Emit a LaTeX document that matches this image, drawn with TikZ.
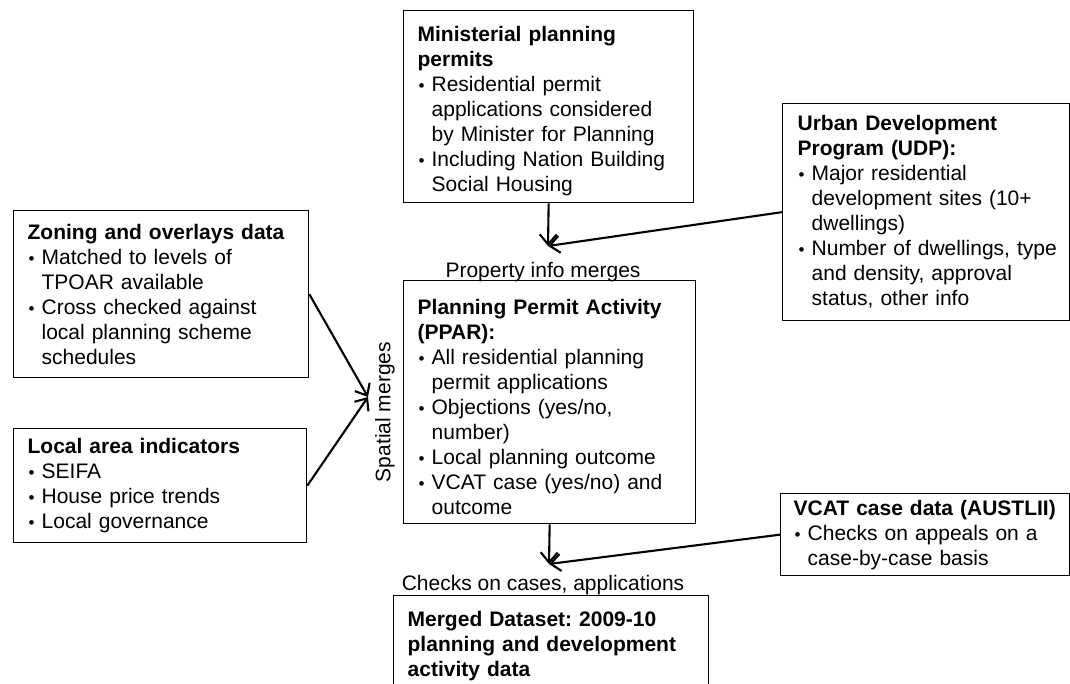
\documentclass[tikz,border=0pt]{standalone}
\usepackage{fontspec}
\setmainfont{Liberation Sans}
\usepackage{tikz}
\usetikzlibrary{arrows.meta}
\usetikzlibrary{positioning}
\frenchspacing

\newcommand{\bul}{\makebox[14pt][l]{\hspace{1pt}{\fontsize{17}{17}\selectfont\textbullet}}}
\newcommand{\ind}{\hspace*{14pt}}

\begin{document}
\begin{tikzpicture}[x=1pt,y=-1pt,
  font=\fontsize{21}{25}\selectfont,
  databox/.style={draw, line width=1.3pt, anchor=north west, align=left, inner xsep=14pt, inner ysep=0pt},
  link/.style={line width=2.1pt, -{Straight Barb[length=10pt,width=17pt,line width=2.1pt]}}]
\useasboundingbox (0,0) rectangle (1070,684); % page size of the original
% source data boxes
\node[databox, text width=262pt, minimum height=192pt] (mini) at (403,10) {\rule{0pt}{25pt}\textbf{Ministerial planning}\\ \textbf{permits}\\ \bul Residential permit\\ \ind applications considered\\ \ind by Minister for Planning\\ \bul Including Nation Building\\ \ind Social Housing};
\node[databox, inner xsep=15pt, text width=257pt, minimum height=217pt] (udp) at (782,103) {\textbf{Urban Development}\\ \textbf{Program (UDP):}\\ \bul Major residential\\ \ind development sites (10+\\ \ind dwellings)\\ \bul \mbox{Number of dwellings, type}\\ \ind and density, approval\\ \ind status, other info};
\node[databox, text width=267pt, minimum height=167pt] (zoning) at (13,210) {\textbf{Zoning and overlays data}\\ \bul Matched to levels of\\ \ind TPOAR available\\ \bul Cross checked against\\ \ind local planning scheme\\ \ind schedules};
\node[databox, text width=265pt, minimum height=114pt] (local) at (13,428) {\textbf{Local area indicators}\\ \bul SEIFA\\ \bul House price trends\\ \bul Local governance};
\node[databox, text width=264pt, minimum height=243pt] (ppar) at (403,280) {\rule{0pt}{25pt}\textbf{Planning Permit Activity}\\ \textbf{(PPAR):}\\ \bul All residential planning\\ \ind permit applications\\ \bul Objections (yes/no,\\ \ind number)\\ \bul Local planning outcome\\ \bul VCAT case (yes/no) and\\ \ind outcome};
\node[databox, inner xsep=13pt, text width=263pt, minimum height=82pt] (vcat) at (780,493) {\textbf{\mbox{VCAT case data (AUSTLII)}}\\ \bul Checks on appeals on a\\ \ind case-by-case basis};
\node[databox, text width=287pt, minimum height=100pt] (merged) at (393,595) {\textbf{Merged Dataset: 2009-10}\\ \textbf{planning and development}\\ \textbf{activity data}};
% merge labels
\node (propinfo) at (543,272) {Property info merges};
\node[rotate=90] (spatial) at (385,412) {Spatial merges};
\node (checks) at (543,585) {Checks on cases, applications};
\coordinate (pim) at (548,246);
\coordinate (sm) at (368,397);
\coordinate (ccs) at (549,564);
% arrows
\draw[link] (mini.south) -- (pim);
\draw[link] (udp.west) -- (pim);
\draw[link] (zoning.east) -- (sm);
\draw[link] (local.east) -- (sm);
\draw[link] (ppar.south) -- (ccs);
\draw[link] (vcat.west) -- (ccs);
\end{tikzpicture}
\end{document}
